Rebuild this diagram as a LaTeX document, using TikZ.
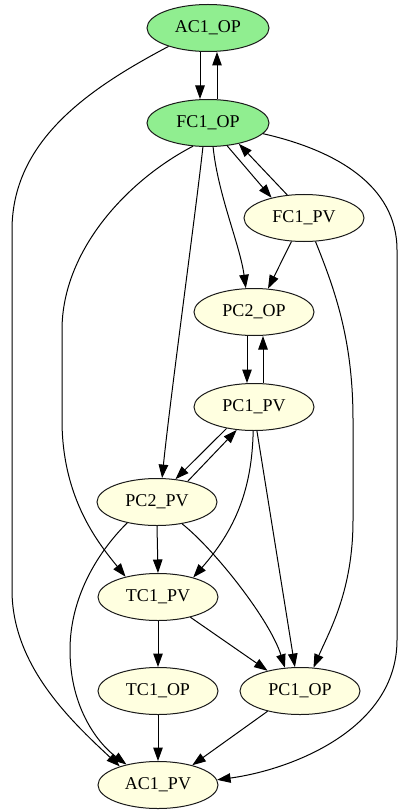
\documentclass[tikz,border=0pt]{standalone}
\usepackage{fontspec}
\setmainfont{Liberation Serif}
\usetikzlibrary{shapes.geometric,arrows.meta}
\definecolor{opgreen}{HTML}{90EE90}
\definecolor{pvyellow}{HTML}{FFFFE0}
\definecolor{edgegray}{HTML}{1A1A1A}
\tikzset{
  vertex/.style={ellipse, draw=edgegray, line width=1pt, inner sep=0pt,
    minimum width=120pt, minimum height=47pt, fill=pvyellow,
    font=\fontsize{18}{20}\selectfont},
  opnode/.style={vertex, fill=opgreen, minimum width=122pt},
  link/.style={draw=black, line width=1pt,
    -{Triangle[length=13.5pt,width=9.5pt]}},
}
\begin{document}
\begin{tikzpicture}[x=1pt,y=-1pt]
\useasboundingbox (0,0) rectangle (398,810);

% controllers, top to bottom
\node[opnode] (AC1OP) at (208,28)  {AC1\_OP};
\node[opnode] (FC1OP) at (208,123) {FC1\_OP};
\node[vertex] (FC1PV) at (304,218) {FC1\_PV};
\node[vertex] (PC2OP) at (254,312) {PC2\_OP};
\node[vertex] (PC1PV) at (254,407) {PC1\_PV};
\node[vertex] (PC2PV) at (157,502) {PC2\_PV};
\node[vertex] (TC1PV) at (158,597) {TC1\_PV};
\node[vertex] (TC1OP) at (158,691) {TC1\_OP};
\node[vertex] (PC1OP) at (300,691) {PC1\_OP};
\node[vertex] (AC1PV) at (158,785) {AC1\_PV};

% AC1_OP <-> FC1_OP
\draw[link] ([xshift=-8pt]AC1OP.south) -- ([xshift=-8pt]FC1OP.north);
\draw[link] ([xshift=9pt]FC1OP.north) -- ([xshift=9pt]AC1OP.south);
% AC1_OP -> AC1_PV, far left
\draw[link] (AC1OP.205) .. controls (90,88) and (12,140) .. (12,230)
  -- (12,590) .. controls (12,665) and (70,720) .. (AC1PV.154);

% out of FC1_OP
\draw[link] (FC1OP.-50) -- (FC1PV.148);
\draw[link] (FC1PV.126) -- (FC1OP.-34);
\draw[link] (FC1OP.-78) .. controls (218,195) and (240,245) .. (PC2OP.109);
\draw[link] (FC1OP.-102) .. controls (196,210) and (170,400) .. (PC2PV.78);
\draw[link] (FC1OP.-123) .. controls (128,180) and (62,250) .. (62,330)
  -- (62,420) .. controls (62,500) and (100,545) .. (TC1PV.148);
\draw[link] (FC1OP.-11) .. controls (335,150) and (397,185) .. (397,250)
  -- (397,640) .. controls (397,730) and (290,770) .. (AC1PV.5);

% out of FC1_PV
\draw[link] (FC1PV.-118) -- (PC2OP.59);
\draw[link] (FC1PV.-64) .. controls (335,290) and (353,340) .. (353,420)
  -- (353,520) .. controls (353,590) and (330,630) .. (PC1OP.60);

% PC2_OP <-> PC1_PV
\draw[link] ([xshift=-7pt]PC2OP.south) -- ([xshift=-7pt]PC1PV.north);
\draw[link] ([xshift=9pt]PC1PV.north) -- ([xshift=9pt]PC2OP.south);

% out of PC1_PV
\draw[link] (PC1PV.-142) -- (PC2PV.51);
\draw[link] (PC2PV.34) -- (PC1PV.-127);
\draw[link] (PC1PV.-92) .. controls (252,490) and (235,530) .. (TC1PV.29);
\draw[link] (PC1PV.-83) -- (PC1OP.102);

% out of PC2_PV
\draw[link] (PC2PV.south) -- (TC1PV.north);
\draw[link] (PC2PV.-41) .. controls (215,550) and (270,620) .. (PC1OP.123);
\draw[link] (PC2PV.-145) .. controls (95,555) and (70,600) .. (70,650)
  .. controls (70,710) and (100,745) .. (AC1PV.147);

% lower rows
\draw[link] (TC1PV.south) -- (TC1OP.north);
\draw[link] (TC1PV.-32) -- (PC1OP.148);
\draw[link] (TC1OP.south) -- (AC1PV.north);
\draw[link] (PC1OP.-148) -- (AC1PV.30);
\end{tikzpicture}
\end{document}
